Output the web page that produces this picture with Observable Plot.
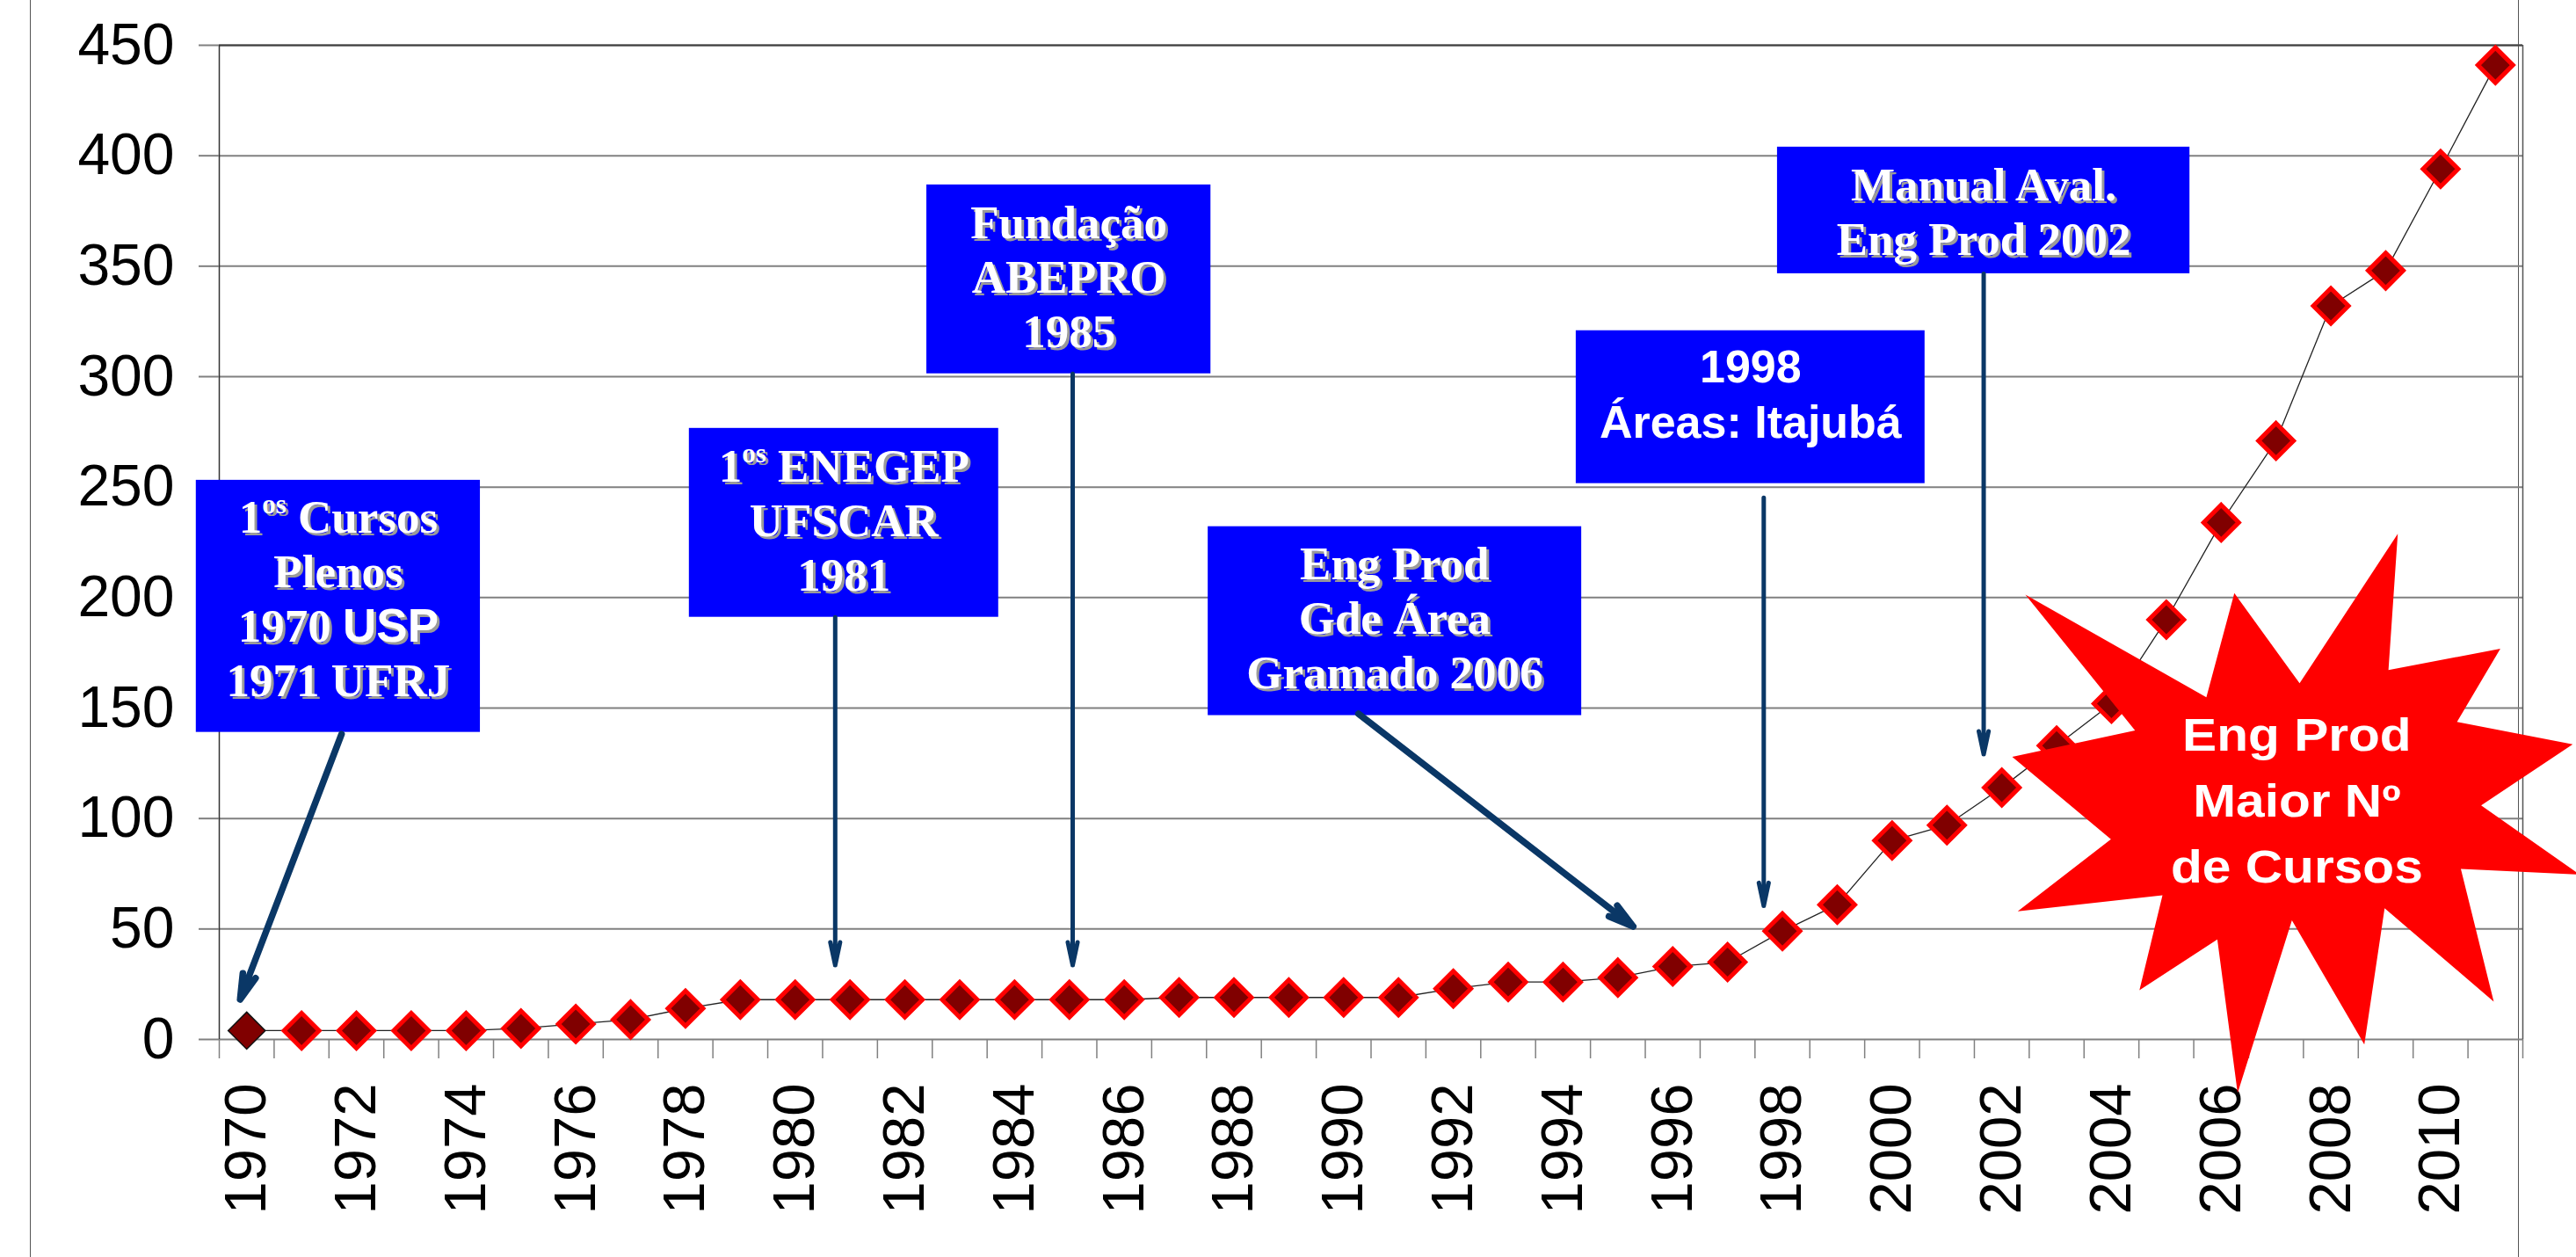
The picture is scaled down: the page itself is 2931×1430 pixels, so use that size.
<!DOCTYPE html>
<html>
<head>
<meta charset="utf-8">
<script src="https://cdn.jsdelivr.net/npm/d3@7"></script>
<script src="https://cdn.jsdelivr.net/npm/@observablehq/plot@0.6"></script>
<style>
html, body { margin: 0; padding: 0; background: #fff; }
#wrap { position: relative; width: 2931px; height: 1430px; overflow: hidden; background: #fff; }
.frame { position: absolute; top: 0; height: 1430px; width: 0; border-left: 1.5px solid #555; }
#wrap svg { position: relative; z-index: 1; }
</style>
</head>
<body>
<div id="wrap">
  <div class="frame" style="left:34px"></div>
  <div class="frame" style="left:2865px"></div>
</div>
<script>
// ---- data ----
const years = [1970,1971,1972,1973,1974,1975,1976,1977,1978,1979,1980,1981,1982,1983,1984,1985,1986,1987,1988,1989,1990,1991,1992,1993,1994,1995,1996,1997,1998,1999,2000,2001,2002,2003,2004,2005,2006,2007,2008,2009,2010,2011];
const courses = [4,4,4,4,4,5,7,9,14,18,18,18,18,18,18,18,18,19,19,19,19,19,23,26,26,28,33,35,49,61,90,97,114,133,152,190,234,271,332,348,394,441];
const yTicks = [0,50,100,150,200,250,300,350,400,450];
const xTickLabels = [1970,1972,1974,1976,1978,1980,1982,1984,1986,1988,1990,1992,1994,1996,1998,2000,2002,2004,2006,2008,2010];

// ---- annotations (in data units: year, number of courses) ----
const boxes = [
  {x1: 1969.08, x2: 1974.26, y1: 139.0, y2: 253.1},
  {x1: 1978.07, x2: 1983.71, y1: 191.1, y2: 276.6},
  {x1: 1982.40, x2: 1987.58, y1: 301.3, y2: 386.8},
  {x1: 1987.53, x2: 1994.34, y1: 146.6, y2: 232.1},
  {x1: 1994.24, x2: 2000.60, y1: 251.6, y2: 320.8},
  {x1: 1997.91, x2: 2005.43, y1: 346.6, y2: 403.9}
];
const serifNotes = [
  {x: 1971.67, y: 200.3, text: "1os Cursos\nPlenos\n1970 USP\n1971 UFRJ"},
  {x: 1980.89, y: 235.8, text: "1os ENEGEP\nUFSCAR\n1981"},
  {x: 1984.99, y: 346.0, text: "Fundação\nABEPRO\n1985"},
  {x: 1990.93, y: 191.6, text: "Eng Prod\nGde Área\nGramado 2006"},
  {x: 2001.67, y: 375.2, text: "Manual Aval.\nEng Prod 2002"}
];
const sansNotes = [{x: 1997.42, y: 292.8, text: "1998\nÁreas: Itajubá"}];
const starNotes = [{x: 2007.38, y: 110.4, text: "Eng Prod\nMaior Nº\nde Cursos"}];
const arrowsThin = [
  {x1: 1980.73, y1: 191.1, x2: 1980.73, y2: 33.6},
  {x1: 1985.06, y1: 301.3, x2: 1985.06, y2: 33.6},
  {x1: 1997.66, y1: 245.2, x2: 1997.66, y2: 60.5},
  {x1: 2001.67, y1: 346.6, x2: 2001.67, y2: 129.1}
];
const arrowsThick = [
  {x1: 1971.73, y1: 138.2, x2: 1969.88, y2: 18.1},
  {x1: 1990.27, y1: 147.4, x2: 1995.28, y2: 51.1}
];
const star = [
  [2009.22,228.9],[2009.05,167.2],[2011.09,176.9],[2010.30,143.7],[2012.41,133.6],[2010.74,105.9],
  [2012.54,74.6],[2010.37,77.2],[2010.97,17.1],[2008.98,59.4],[2008.61,-2.3],[2007.29,53.9],
  [2006.30,-24.3],[2005.93,45.3],[2004.51,22.3],[2004.93,65.3],[2002.29,58.0],[2003.99,90.6],
  [2002.19,127.9],[2004.43,139.9],[2002.43,201.3],[2005.73,154.9],[2006.24,202.0],[2007.43,161.2]
];

const data = years.map((year, i) => ({year, courses: courses[i]}));
const boundaries = years.map(y => y - 0.5).concat([years[years.length - 1] + 0.5]);

const serif = "Liberation Serif, Times New Roman, serif";
const sans = "Liberation Sans, Arial, sans-serif";
const arrowColor = "#0a3766";

const chart = Plot.plot({
  width: 2931,
  height: 1430,
  marginLeft: 249,
  marginRight: 61,
  marginTop: 51,
  marginBottom: 248,
  style: {color: "black", background: "transparent", overflow: "visible"},
  x: {type: "linear", domain: [1969.5, 2011.5], axis: null},
  y: {domain: [0, 450], axis: null},
  marks: [
    Plot.gridY(yTicks, {stroke: "#808080", strokeOpacity: 1, strokeWidth: 2}),
    Plot.ruleY([450], {stroke: "#404040", strokeWidth: 2}),
    Plot.ruleX([1969.5], {stroke: "#333", strokeWidth: 1.5}),
    Plot.ruleX([2011.5], {stroke: "#555", strokeWidth: 1.5}),
    Plot.axisY({ticks: yTicks, tickSize: 23, tickPadding: 28, fontSize: 66, fontFamily: sans, stroke: "#808080", strokeWidth: 2}),
    Plot.axisX({ticks: boundaries, tickSize: 22, tickPadding: 0, tickFormat: () => "", stroke: "#808080", strokeWidth: 1.5}),
    Plot.axisX({ticks: xTickLabels, tickSize: 0, tickPadding: 50, tickRotate: -90, fontSize: 67, fontFamily: sans, tickFormat: d => String(d)}),
    Plot.line(data, {x: "year", y: "courses", stroke: "#222", strokeWidth: 1.3}),
    Plot.dot(data, {filter: d => d.year !== 1970, x: "year", y: "courses", symbol: "diamond2", r: 18, fill: "#800000", stroke: "#ff0000", strokeWidth: 5}),
    Plot.dot(data, {filter: d => d.year === 1970, x: "year", y: "courses", symbol: "diamond2", r: 19, fill: "#800000", stroke: "#111", strokeWidth: 1.5}),
    Plot.rect(boxes, {x1: "x1", x2: "x2", y1: "y1", y2: "y2", fill: "#0000ff"}),
    Plot.arrow(arrowsThin, {x1: "x1", y1: "y1", x2: "x2", y2: "y2", stroke: arrowColor, strokeWidth: 5, headLength: 8, headAngle: 24}),
    Plot.arrow(arrowsThick, {x1: "x1", y1: "y1", x2: "x2", y2: "y2", stroke: arrowColor, strokeWidth: 7.5, headLength: 6, headAngle: 30}),
    Plot.text(serifNotes, {x: "x", y: "y", text: "text", fontFamily: serif, fontWeight: "bold", fontSize: 53, lineHeight: 1.17, fill: "#9a9a9a", dx: 3, dy: 3}),
    Plot.text(serifNotes, {x: "x", y: "y", text: "text", fontFamily: serif, fontWeight: "bold", fontSize: 53, lineHeight: 1.17, fill: "white"}),
    Plot.text(sansNotes, {x: "x", y: "y", text: "text", fontFamily: sans, fontWeight: "bold", fontSize: 52, lineHeight: 1.217, fill: "white"}),
    Plot.line(star, {x: d => d[0], y: d => d[1], curve: "linear-closed", fill: "#ff0000", stroke: "none"}),
    Plot.text(starNotes, {x: "x", y: "y", text: "text", fontFamily: sans, fontWeight: "bold", fontSize: 51, lineHeight: 1.47, fill: "white"})
  ]
});

// mixed typography inside the annotation boxes (superscript "os", sans "USP")
const NS = "http://www.w3.org/2000/svg";
function sub(parent, txt, attrs) {
  const t = document.createElementNS(NS, "tspan");
  for (const k in attrs) t.setAttribute(k, attrs[k]);
  t.textContent = txt;
  parent.appendChild(t);
  return t;
}
d3.select(chart).selectAll("tspan").each(function () {
  const t = this.textContent;
  const m = t.match(/^1os (.*)$/);
  if (m) {
    this.textContent = "";
    sub(this, "1", {});
    sub(this, "os", {"font-size": "31px", dy: "-22px"});
    sub(this, " " + m[1], {dy: "22px"});
  } else if (t === "1970 USP") {
    this.textContent = "";
    sub(this, "1970 ", {});
    sub(this, "USP", {"font-family": sans});
  }
});
d3.select(chart).selectAll("text").filter(function () { return this.textContent.includes("Maior"); })
  .attr("transform", function () { return this.getAttribute("transform") + " scale(1.15,1)"; });

document.getElementById("wrap").appendChild(chart);
</script>
</body>
</html>
